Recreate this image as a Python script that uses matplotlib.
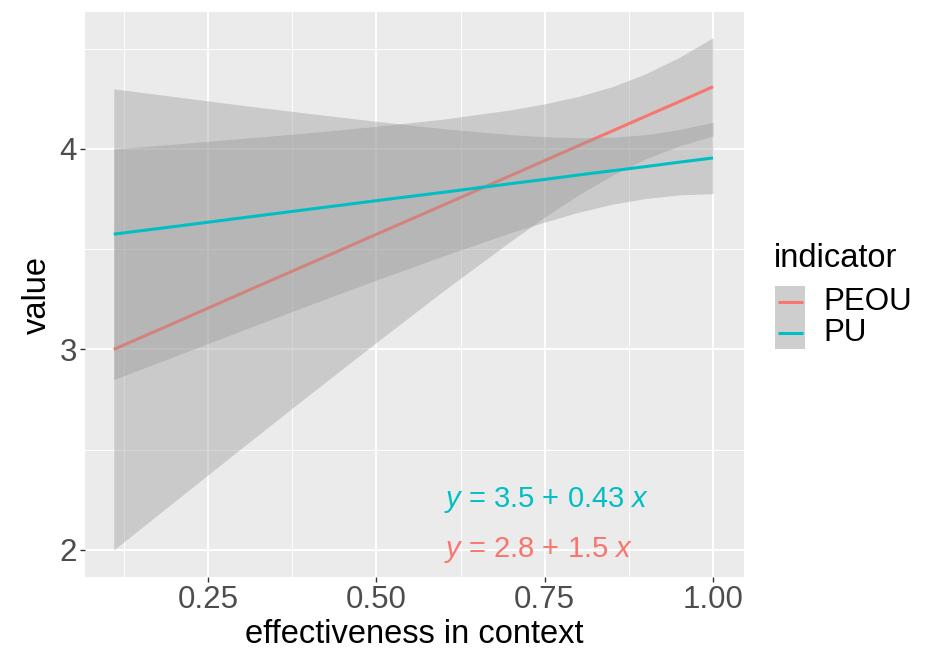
import matplotlib
matplotlib.use('Agg')
import matplotlib.pyplot as plt
from matplotlib.patches import Rectangle
from matplotlib.lines import Line2D

plt.rcParams['font.family'] = ['Liberation Sans', 'DejaVu Sans']
plt.rcParams['mathtext.fontset'] = 'custom'
plt.rcParams['mathtext.rm'] = 'Liberation Sans'
plt.rcParams['mathtext.it'] = 'Liberation Sans:italic'

# x positions where the fitted lines / confidence bands were read
x_grid = [0.11, 0.2, 0.3, 0.4, 0.5, 0.6, 0.7, 0.75, 0.8, 0.85, 0.9, 0.95, 1.0]

# PEOU fit and band
peou_fit = [3.000, 3.132, 3.280, 3.427, 3.574, 3.721, 3.868, 3.942, 4.016, 4.089, 4.163, 4.236, 4.310]
peou_lo = [2.000, 2.241, 2.508, 2.773, 3.035, 3.293, 3.541, 3.660, 3.770, 3.868, 3.951, 4.015, 4.065]
peou_hi = [4.000, 4.024, 4.052, 4.081, 4.113, 4.149, 4.195, 4.225, 4.262, 4.310, 4.375, 4.457, 4.555]

# PU fit and band
pu_fit = [3.575, 3.613, 3.656, 3.699, 3.742, 3.784, 3.827, 3.848, 3.870, 3.891, 3.912, 3.934, 3.955]
pu_lo = [2.850, 2.965, 3.094, 3.221, 3.346, 3.467, 3.583, 3.635, 3.684, 3.724, 3.753, 3.771, 3.777]
pu_hi = [4.300, 4.261, 4.218, 4.177, 4.138, 4.101, 4.071, 4.061, 4.056, 4.059, 4.071, 4.097, 4.133]

indicators = ['PEOU', 'PU']
colors = {'PEOU': '#F8766D', 'PU': '#00BFC4'}
equations = {'PEOU': r'$y$ = 2.8 + 1.5 $x$', 'PU': r'$y$ = 3.5 + 0.43 $x$'}
eq_x = 0.6
eq_y = {'PEOU': 2.0, 'PU': 2.25}

x_ticks = [0.25, 0.50, 0.75, 1.00]
x_ticklabels = ['0.25', '0.50', '0.75', '1.00']
y_ticks = [2, 3, 4]

W, H = 932, 653


def fx(px):
  return px / W


def fy(py):
  return 1 - py / H


fig = plt.figure(figsize=(W / 100, H / 100), dpi=100)
ax = fig.add_axes([fx(85), fy(577), (744 - 85) / W, (577 - 12) / H])
ax.set_facecolor('#EBEBEB')

series = {
  'PEOU': (peou_fit, peou_lo, peou_hi),
  'PU': (pu_fit, pu_lo, pu_hi),
}
# each group draws its ribbon then its line, like geom_smooth
for i, name in enumerate(indicators):
  fit, lo, hi = series[name]
  ax.fill_between(x_grid, lo, hi, color='#999999', alpha=0.4, lw=0,
                  zorder=2 + i * 0.2)
  ax.plot(x_grid, fit, color=colors[name], lw=2.2, zorder=2.1 + i * 0.2,
          solid_capstyle='butt')

for name in indicators:
  ax.text(eq_x, eq_y[name], equations[name], color=colors[name], fontsize=21,
          ha='left', va='center', zorder=4)

ax.set_xlim(0.0673, 1.046)
ax.set_ylim(1.865, 4.683)
ax.set_xticks(x_ticks)
ax.set_xticklabels(x_ticklabels)
ax.set_yticks(y_ticks)
ax.set_xticks([0.125, 0.375, 0.625, 0.875], minor=True)
ax.set_yticks([2.5, 3.5, 4.5], minor=True)
ax.grid(which='major', color='white', lw=1.4, zorder=1)
ax.grid(which='minor', color='white', lw=0.7, zorder=1)
ax.set_axisbelow(True)
for s in ax.spines.values():
  s.set_visible(False)
ax.tick_params(which='major', length=3.5, width=1, color='#333333',
               labelsize=22.5, labelcolor='#4D4D4D', pad=2.5)
ax.tick_params(which='minor', length=0)

fig.text(fx(414.5), fy(643), 'effectiveness in context', fontsize=23.5,
         ha='center', va='baseline', color='black')
fig.text(fx(37), fy(294.5), 'value', fontsize=23.5, rotation=90,
         ha='center', va='center', color='black')

# legend
fig.text(fx(774), fy(267), 'indicator', fontsize=23.5, ha='left',
         va='baseline', color='black')
key_top = 286
key_h = 31.5
for i, name in enumerate(indicators):
  top = key_top + i * key_h
  fig.patches.append(Rectangle((fx(775), fy(top + key_h)), 30 / W, key_h / H,
                               transform=fig.transFigure, facecolor='#CECECE',
                               edgecolor='none'))
  yc = top + key_h / 2
  fig.lines.append(Line2D([fx(778), fx(803)], [fy(yc), fy(yc)],
                          transform=fig.transFigure, color=colors[name],
                          lw=2.2, solid_capstyle='butt'))
  fig.text(fx(823), fy(yc), name, fontsize=22.5, ha='left', va='center',
           color='black')

fig.savefig('out.png', dpi=100)
